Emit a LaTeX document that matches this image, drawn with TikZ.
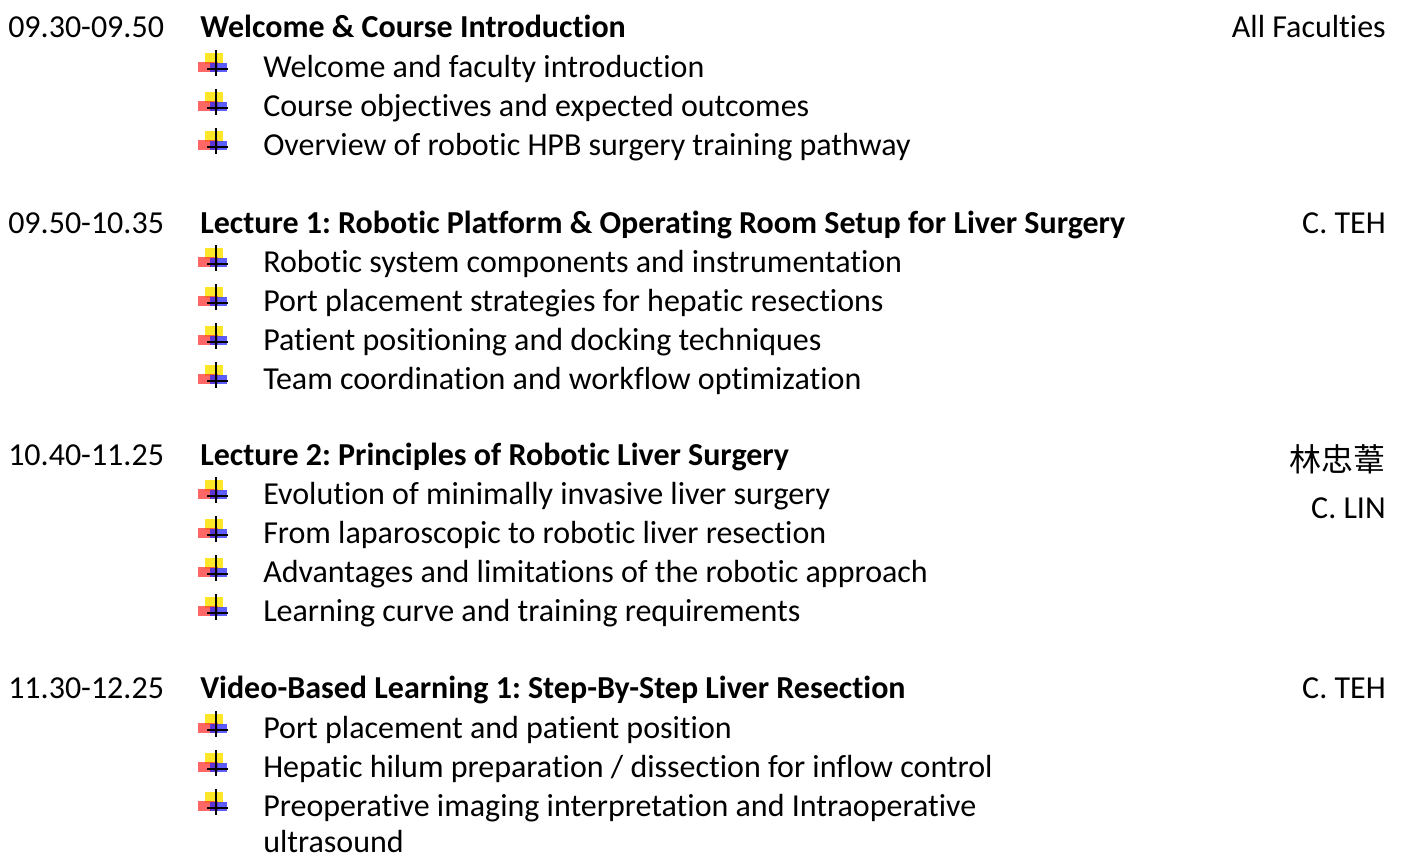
\documentclass[tikz,border=0pt]{standalone}
\usepackage{fontspec}
\setmainfont{Carlito}[Ligatures=CommonOff]
\newfontfamily\cjkfont{Noto Sans CJK TC}

\tikzset{
  slot/.style={anchor=base west,inner sep=0pt,font=\fontsize{24}{28}\selectfont},
  head/.style={anchor=base west,inner sep=0pt,font=\fontsize{24}{28}\selectfont\bfseries},
  item/.style={anchor=base west,inner sep=0pt,font=\fontsize{24}{28}\selectfont},
  who/.style={anchor=base east,inner sep=0pt,font=\fontsize{24}{28}\selectfont},
  hpb bullet/.pic={
    \fill [yellow!85!orange,opacity=0.85] (0,14) rectangle (18,3);
    \fill [red!80,opacity=0.75] (-7,5) rectangle (13,-5);
    \fill [blue!85,opacity=0.75] (5,4) rectangle (22,-5);
    \draw [line width=1.6pt] (11,17) -- (11,-9);
    \draw [line width=1.6pt] (2,-2) -- (23,-2);
  }
}

\begin{document}
\frenchspacing
\begin{tikzpicture}[x=0.75pt,y=0.75pt,yscale=-1,xscale=1]
		\useasboundingbox (0,0) rectangle (1402,854);
		\clip (0,0) rectangle (1402,854);
		% session 1
		\node (s1) [slot] at (8,37) {09.30-09.50};
		\node (h1) [head] at (200,37) {Welcome \& Course Introduction};
		\node (w1) [who] at (1386,37) {All Faculties};
		\pic at (205,67) {hpb bullet};
		\node (i11) [item] at (263,77) {Welcome and faculty introduction};
		\pic at (205,106) {hpb bullet};
		\node (i12) [item] at (263,116) {Course objectives and expected outcomes};
		\pic at (205,145) {hpb bullet};
		\node (i13) [item] at (263,155) {Overview of robotic HPB surgery training pathway};
		% session 2
		\node (s2) [slot] at (8,233) {09.50-10.35};
		\node (h2) [head] at (200,233) {Lecture 1: Robotic Platform \& Operating Room Setup for Liver Surgery};
		\node (w2) [who] at (1386,233) {C. TEH};
		\pic at (205,262) {hpb bullet};
		\node (i21) [item] at (263,272) {Robotic system components and instrumentation};
		\pic at (205,301) {hpb bullet};
		\node (i22) [item] at (263,311) {Port placement strategies for hepatic resections};
		\pic at (205,340) {hpb bullet};
		\node (i23) [item] at (263,350) {Patient positioning and docking techniques};
		\pic at (205,379) {hpb bullet};
		\node (i24) [item] at (263,389) {Team coordination and workflow optimization};
		% session 3
		\node (s3) [slot] at (8,465) {10.40-11.25};
		\node (h3) [head] at (200,465) {Lecture 2: Principles of Robotic Liver Surgery};
		\node (w3) [who] at (1386,471) {\cjkfont 林忠葦};
		\node (w3b) [who] at (1386,518) {C. LIN};
		\pic at (205,494) {hpb bullet};
		\node (i31) [item] at (263,504) {Evolution of minimally invasive liver surgery};
		\pic at (205,533) {hpb bullet};
		\node (i32) [item] at (263,543) {From laparoscopic to robotic liver resection};
		\pic at (205,572) {hpb bullet};
		\node (i33) [item] at (263,582) {Advantages and limitations of the robotic approach};
		\pic at (205,611) {hpb bullet};
		\node (i34) [item] at (263,621) {Learning curve and training requirements};
		% session 4
		\node (s4) [slot] at (8,698) {11.30-12.25};
		\node (h4) [head] at (200,698) {Video-Based Learning 1: Step-By-Step Liver Resection};
		\node (w4) [who] at (1386,698) {C. TEH};
		\pic at (205,728) {hpb bullet};
		\node (i41) [item] at (263,738) {Port placement and patient position};
		\pic at (205,767) {hpb bullet};
		\node (i42) [item] at (263,777) {Hepatic hilum preparation / dissection for inflow control};
		\pic at (205,806) {hpb bullet};
		\node (i43) [item] at (263,816) {Preoperative imaging interpretation and Intraoperative};
		\node (i43b) [item] at (263,852) {ultrasound};
\end{tikzpicture}
\end{document}
